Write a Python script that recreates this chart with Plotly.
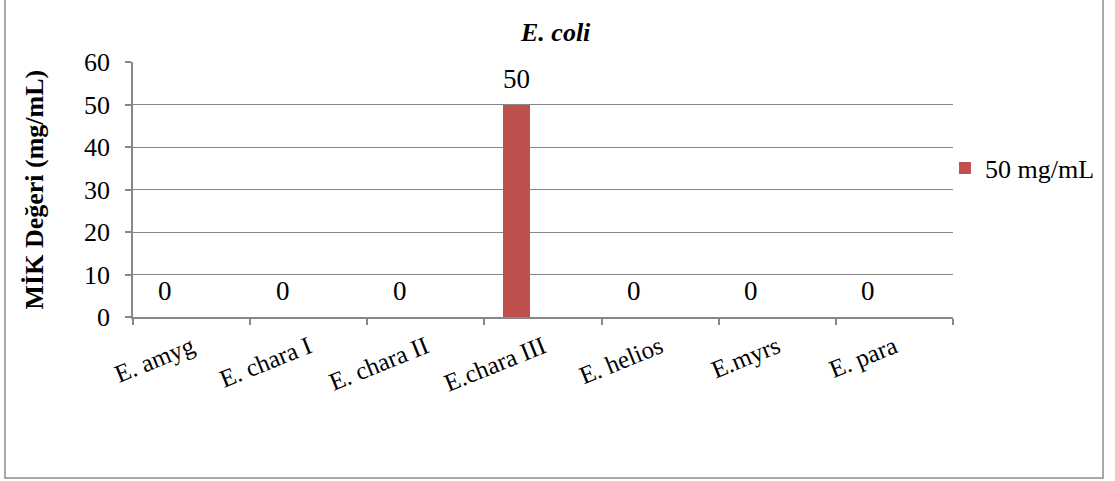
import plotly.graph_objects as go

categories = ["E. amyg", "E. chara I", "E. chara II", "E.chara III", "E. helios", "E.myrs", "E. para"]
values = [0, 0, 0, 50, 0, 0, 0]
series_name = "50 mg/mL"
chart_title = "<b><i>E. coli</i></b>"
y_title = "<b>MİK Değeri (mg/mL)</b>"
y_ticks = [0, 10, 20, 30, 40, 50, 60]

W, H = 1115, 481
L, R, T, B = 133, 162, 62, 164
FONT = "Liberation Serif, Times New Roman, serif"
GRID = "#878787"
BAR = "#C0504D"
FS = 26

bar_width = 0.23
bar_offset = -0.338

fig = go.Figure()
fig.add_trace(go.Bar(
    x=categories, y=values, name=series_name,
    marker=dict(color=BAR, line=dict(width=0)),
    width=bar_width, offset=bar_offset,
    showlegend=True,
))

pw = W - L - R
ph = H - T - B
def px_x(p):
    return (p - L) / pw
def px_y(p):
    return (H - B - p) / ph

annotations = []
for i, (c, v) in enumerate(zip(categories, values)):
    annotations.append(dict(
        x=i + bar_offset + bar_width / 2, y=v, xref="x", yref="y",
        text=str(v), showarrow=False, yanchor="bottom", yshift=9,
        font=dict(family=FONT, size=FS + 1, color="black"),
    ))

annotations.append(dict(
    x=px_x(555), y=px_y(33), xref="paper", yref="paper", text=chart_title,
    showarrow=False, font=dict(family=FONT, size=FS, color="black"),
    xanchor="center", yanchor="middle",
))
annotations.append(dict(
    x=px_x(34), y=0.5, xref="paper", yref="paper", text=y_title,
    showarrow=False, textangle=-90, font=dict(family=FONT, size=FS, color="black"),
    xanchor="center", yanchor="middle",
))

fig.update_layout(
    width=W, height=H,
    margin=dict(l=L, r=R, t=T, b=B, autoexpand=False),
    paper_bgcolor="white", plot_bgcolor="white",
    font=dict(family=FONT, size=FS, color="black"),
    bargap=0.0,
    showlegend=True,
    legend=dict(
        x=px_x(945), y=px_y(168), xanchor="left", yanchor="middle",
        font=dict(family=FONT, size=FS, color="black"),
        bgcolor="rgba(0,0,0,0)", itemwidth=30,
    ),
    annotations=annotations,
    shapes=[dict(
        type="rect", xref="paper", yref="paper",
        x0=px_x(5), x1=px_x(1103), y0=px_y(478), y1=px_y(-3),
        line=dict(color="#8c8c8c", width=1.5), fillcolor="rgba(0,0,0,0)",
        layer="below",
    )],
    xaxis=dict(
        type="category", showgrid=False, showline=True, linecolor=GRID, linewidth=1.5,
        ticks="outside", ticklen=6, tickcolor=GRID, tickwidth=1.5,
        tickson="boundaries", tickangle=-22,
        tickfont=dict(family=FONT, size=FS - 1, color="black"),
        ticklabelstandoff=4,
        range=[-0.5, len(categories) - 0.5],
    ),
    yaxis=dict(
        range=[0, 60], tickvals=y_ticks, showgrid=True, gridcolor=GRID, gridwidth=1,
        showline=True, linecolor=GRID, linewidth=1.5,
        ticks="outside", ticklen=6, tickcolor=GRID, tickwidth=1.5,
        tickfont=dict(family=FONT, size=FS, color="black"),
        ticklabelstandoff=10, zeroline=False,
    ),
)

fig.write_html("out.html")
